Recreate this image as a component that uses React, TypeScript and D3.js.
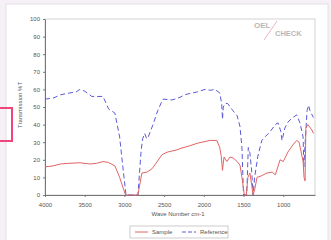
import React, { useEffect, useRef } from 'react';
import * as d3 from 'd3';

// wave numbers (cm-1) and % transmission
const sampleWave = [4000, 3900, 3810, 3700, 3560, 3430, 3350, 3270, 3200, 3120, 3060, 3020, 2985, 2830, 2780, 2715, 2650, 2525, 2450, 2350, 2275, 2175, 2075, 1920, 1835, 1800, 1780, 1765, 1755, 1745, 1710, 1670, 1630, 1580, 1545, 1520, 1490, 1465, 1445, 1420, 1395, 1380, 1360, 1330, 1270, 1205, 1140, 1100, 1060, 1040, 1000, 940, 880, 830, 800, 780, 750, 738, 725, 715, 690, 640, 620];
const sampleT = [16, 16.5, 17.6, 18, 18.3, 17.6, 18, 19, 18.5, 16.5, 10, 4.5, 0, 0, 12.5, 13, 15, 23, 24.5, 25.5, 26.7, 28, 29.5, 31, 31, 27, 22, 14, 18, 21.6, 19, 21.6, 21, 19, 17, 10, 0, 0, 10, 12.5, 5, 0, 3, 10, 11, 12.5, 13, 11.5, 17, 20, 19, 24.5, 28.4, 31, 30, 25.6, 19, 10, 8, 38, 40, 37, 35];

const refWave = [4000, 3900, 3800, 3685, 3610, 3560, 3500, 3410, 3270, 3200, 3120, 3060, 3020, 2980, 2830, 2790, 2770, 2745, 2720, 2700, 2640, 2580, 2515, 2400, 2300, 2240, 2090, 1985, 1920, 1860, 1800, 1775, 1765, 1755, 1730, 1700, 1635, 1580, 1545, 1520, 1500, 1460, 1440, 1420, 1395, 1380, 1360, 1320, 1270, 1230, 1165, 1100, 1065, 1030, 1015, 980, 940, 880, 830, 790, 750, 740, 730, 700, 680, 665, 620];
const refT = [54.5, 55, 57, 58, 58.5, 60, 59, 56, 56, 49, 46.5, 33, 16, 0, 0, 25, 32, 35, 32, 33, 40, 48, 54.5, 54, 55.5, 57, 58.5, 60, 59.5, 60, 58, 52, 43, 50, 52, 52, 48, 45, 39, 27, 0, 0, 27, 24, 12.5, 0, 10, 22, 31, 33, 36, 40, 41, 36, 31, 38, 41.5, 44, 45.5, 41, 33, 16, 25, 48, 51, 48, 44];

const xTicks = [4000, 3500, 3000, 2500, 2000, 1500, 1000];
const yTicks = [0, 10, 20, 30, 40, 50, 60, 70, 80, 90, 100];

export default function App() {
  const svgRef = useRef<SVGSVGElement>(null);

  useEffect(() => {
    const svg = d3.select(svgRef.current);
    svg.selectAll('*').remove();
    const width = 331;
    const height = 240;
    const margin = { top: 19, right: 16, bottom: 45, left: 45 };
    const font = 'Liberation Sans, Arial, sans-serif';

    // page backdrop and white card
    svg.append('rect').attr('width', width).attr('height', height).attr('fill', '#f5f1f6');
    svg.append('rect').attr('x', 6).attr('y', 4).attr('width', 322).attr('height', 240)
      .attr('fill', '#fff').attr('stroke', '#e4e0e6');
    svg.append('rect').attr('x', -4).attr('y', 108).attr('width', 16).attr('height', 33)
      .attr('fill', 'none').attr('stroke', '#f0457a').attr('stroke-width', 2);

    const x = d3.scaleLinear().domain([4000, 600]).range([margin.left, width - margin.right]);
    const y = d3.scaleLinear().domain([0, 100]).range([height - margin.bottom, margin.top]);

    // frame
    svg.append('rect')
      .attr('x', margin.left).attr('y', margin.top)
      .attr('width', width - margin.left - margin.right)
      .attr('height', height - margin.top - margin.bottom)
      .attr('fill', 'none').attr('stroke', '#c8c8c8').attr('stroke-width', 0.8);

    const xAxis = svg.append('g')
      .attr('transform', `translate(0,${height - margin.bottom})`)
      .call(d3.axisBottom(x).tickValues(xTicks).tickSize(2).tickSizeOuter(0).tickFormat(d3.format('d')));
    const yAxis = svg.append('g')
      .attr('transform', `translate(${margin.left},0)`)
      .call(d3.axisLeft(y).tickValues(yTicks).tickSize(2).tickSizeOuter(0));
    [xAxis, yAxis].forEach(g => {
      g.selectAll('path').attr('stroke', '#777');
      g.selectAll('line').attr('stroke', '#777');
      g.selectAll('text').attr('fill', '#555').attr('font-size', 6).attr('font-family', font);
    });
    xAxis.selectAll('text').attr('dy', '1.1em');

    const line = d3.line<[number, number]>().x(d => x(d[0])).y(d => y(d[1]));
    const sample = sampleWave.map((w, i) => [w, sampleT[i]] as [number, number]);
    const reference = refWave.map((w, i) => [w, refT[i]] as [number, number]);

    svg.append('path').datum(reference).attr('d', line)
      .attr('fill', 'none').attr('stroke', '#5a5ad8').attr('stroke-width', 1)
      .attr('stroke-dasharray', '5,3');
    svg.append('path').datum(sample).attr('d', line)
      .attr('fill', 'none').attr('stroke', '#e06464').attr('stroke-width', 1);

    // titles
    svg.append('text').attr('x', 178).attr('y', 216).attr('text-anchor', 'middle')
      .attr('font-size', 6).attr('font-family', font).attr('fill', '#555').text('Wave Number cm-1');
    svg.append('text').attr('transform', 'translate(22,105) rotate(-90)').attr('text-anchor', 'middle')
      .attr('font-size', 6).attr('font-family', font).attr('fill', '#555').text('Transmission %T');

    // legend
    const lg = svg.append('g').attr('transform', 'translate(130,226)');
    lg.append('rect').attr('width', 98).attr('height', 12).attr('fill', '#fff')
      .attr('stroke', '#aaa').attr('stroke-width', 0.6);
    lg.append('line').attr('x1', 5).attr('x2', 18).attr('y1', 6).attr('y2', 6)
      .attr('stroke', '#e06464').attr('stroke-width', 1);
    lg.append('text').attr('x', 22).attr('y', 8).attr('font-size', 6).attr('font-family', font)
      .attr('fill', '#555').text('Sample');
    lg.append('line').attr('x1', 52).attr('x2', 66).attr('y1', 6).attr('y2', 6)
      .attr('stroke', '#5a5ad8').attr('stroke-width', 1).attr('stroke-dasharray', '4,2');
    lg.append('text').attr('x', 70).attr('y', 8).attr('font-size', 6).attr('font-family', font)
      .attr('fill', '#555').text('Reference');

    // logo
    const logo = svg.append('g').attr('font-family', font).attr('font-weight', 'bold').attr('fill', '#b8b8b8');
    logo.append('text').attr('x', 254).attr('y', 28).attr('font-size', 8).text('OEL');
    logo.append('line').attr('x1', 264).attr('y1', 40).attr('x2', 277).attr('y2', 21)
      .attr('stroke', '#e8b8c4').attr('stroke-width', 1);
    logo.append('text').attr('x', 275).attr('y', 36).attr('font-size', 7.5).text('CHECK');
  }, []);

  return (
    <svg ref={svgRef} width={331} height={240}
      style={{ position: 'absolute', left: 0, top: 0, display: 'block' }} />
  );
}
